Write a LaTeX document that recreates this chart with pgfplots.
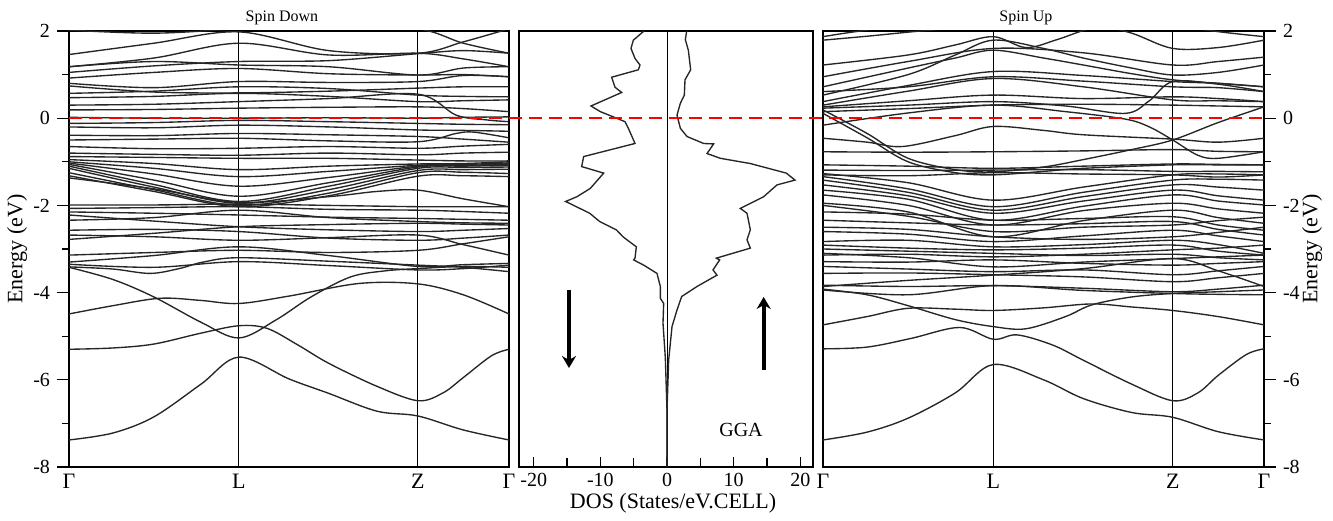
\documentclass[border=0pt]{standalone}
\usepackage{fontspec}
\setmainfont{Liberation Serif}
\usepackage{pgfplots}
\pgfplotsset{compat=1.18}
\usetikzlibrary{calc,arrows.meta}

\pgfplotsset{
  band/.style={black!85, line width=0.68pt, smooth, tension=0.55, mark=none},
  bandax/.style={
    scale only axis, width=220pt, height=218pt,
    xmin=0, xmax=1, ymin=-8, ymax=2,
    axis line style={line width=0.85pt},
    xtick={0,0.386,0.793,1}, xticklabels={Γ,L,Z,Γ},
    xmajorgrids, major grid style={black, line width=0.5pt},
    xtick style={draw=none},
    ytick={-8,-6,-4,-2,0,2}, yticklabels={-8,-6,-4,-2,0,2},
    minor ytick={-7,-5,-3,-1,1},
    tick align=outside, major tick length=6pt, minor tick length=3.5pt,
    ytick style={black, line width=0.6pt},
    yticklabel style={font=\fontsize{10}{12}\selectfont},
    xticklabel style={font=\fontsize{11}{13}\selectfont, yshift=6pt},
    label style={font=\fontsize{11}{13}\selectfont},
  },
}

\begin{document}
\begin{tikzpicture}
\path (-34.5pt,-26.5pt) rectangle (632pt,233.5pt);

% ---------------- spin down bands ----------------
\begin{axis}[bandax, name=sd, at={(0,0)}, anchor=south west,
  ytick pos=left,
  ylabel={Energy (eV)},
  ylabel style={at={(axis description cs:-0.118,0.5)}, anchor=center},
  title={Spin Down},
  every axis title/.style={at={(axis description cs:0.484,1.03)}, anchor=center, font=\fontsize{8}{10}\selectfont}]
\addplot[band] coordinates {(0,-7.38)(0.1,-7.22)(0.193,-6.85)(0.3,-6.1)(0.386,-5.48)(0.5,-5.98)(0.59,-6.31)(0.7,-6.72)(0.793,-6.83)(0.896,-7.15)(1,-7.38)};
\addplot[band] coordinates {(0,-5.30)(0.1,-5.27)(0.193,-5.18)(0.3,-4.93)(0.386,-4.76)(0.45,-4.82)(0.52,-5.2)(0.59,-5.62)(0.7,-6.15)(0.793,-6.48)(0.85,-6.3)(0.896,-5.95)(0.96,-5.45)(1,-5.30)};
\addplot[band] coordinates {(0,-3.42)(0.1,-3.7)(0.193,-4.1)(0.3,-4.68)(0.386,-5.04)(0.47,-4.63)(0.55,-4.1)(0.64,-3.64)(0.72,-3.5)(0.793,-3.45)(0.896,-3.40)(1,-3.42)};
\addplot[band] coordinates {(0,-4.49)(0.1,-4.3)(0.207,-4.13)(0.3,-4.18)(0.386,-4.25)(0.5,-4.08)(0.66,-3.79)(0.793,-3.80)(0.896,-4.05)(1,-4.49)};
\addplot[band] coordinates {(0,-3.35)(0.193,-3.42)(0.386,-3.29)(0.59,-3.38)(0.793,-3.48)(0.896,-3.45)(1,-3.37)};
\addplot[band] coordinates {(0,-3.41)(0.1,-3.46)(0.184,-3.56)(0.25,-3.45)(0.305,-3.3)(0.386,-3.2)(0.59,-3.28)(0.793,-3.37)(0.896,-3.42)(1,-3.52)};
\addplot[band] coordinates {(0,-3.30)(0.193,-3.15)(0.386,-2.95)(0.59,-3.15)(0.793,-3.40)(0.896,-3.36)(1,-3.33)};
\addplot[band] coordinates {(0,-3.14)(0.193,-3.08)(0.386,-3.03)(0.59,-3.08)(0.793,-3.03)(0.896,-2.88)(1,-2.72)};
\addplot[band] coordinates {(0,-2.68)(0.193,-2.72)(0.386,-2.80)(0.59,-2.74)(0.793,-2.68)(0.896,-2.9)(1,-3.14)};
\addplot[band] coordinates {(0,-2.22)(0.193,-2.36)(0.386,-2.49)(0.59,-2.56)(0.793,-2.60)(0.896,-2.57)(1,-2.53)};
\addplot[band] coordinates {(0,-2.78)(0.193,-2.64)(0.386,-2.49)(0.59,-2.44)(0.793,-2.41)(0.896,-2.43)(1,-2.45)};
\addplot[band] coordinates {(0,-1.99)(0.193,-1.99)(0.386,-1.97)(0.59,-2.0)(0.793,-2.03)(0.896,-2.03)(1,-2.03)};
\addplot[band] coordinates {(0,-2.07)(0.193,-2.05)(0.386,-2.03)(0.59,-2.09)(0.793,-2.11)(0.896,-2.14)(1,-2.18)};
\addplot[band] coordinates {(0,-2.15)(0.193,-2.18)(0.386,-2.22)(0.59,-2.27)(0.793,-2.30)(0.896,-2.32)(1,-2.34)};
\addplot[band] coordinates {(0,-2.34)(0.193,-2.28)(0.386,-2.11)(0.59,-2.28)(0.793,-2.37)(0.896,-2.40)(1,-2.41)};
\addplot[band] coordinates {(0,-2.57)(0.193,-2.55)(0.386,-2.60)(0.59,-2.75)(0.793,-2.80)(0.896,-2.75)(1,-2.68)};
\addplot[band] coordinates {(0,-0.95)(0.193,-1.04)(0.386,-1.18)(0.59,-1.10)(0.793,-1.05)(0.896,-1.04)(1,-1.0)};
\addplot[band] coordinates {(0,-1.00)(0.193,-1.15)(0.386,-1.34)(0.59,-1.22)(0.793,-1.08)(0.896,-1.06)(1,-1.03)};
\addplot[band] coordinates {(0,-1.03)(0.193,-1.28)(0.386,-1.56)(0.59,-1.36)(0.793,-1.10)(0.896,-1.08)(1,-1.06)};
\addplot[band] coordinates {(0,-1.06)(0.193,-1.42)(0.386,-1.79)(0.59,-1.48)(0.793,-1.12)(0.896,-1.10)(1,-1.08)};
\addplot[band] coordinates {(0,-1.10)(0.193,-1.52)(0.386,-1.91)(0.59,-1.56)(0.793,-1.15)(0.896,-1.13)(1,-1.12)};
\addplot[band] coordinates {(0,-1.15)(0.193,-1.58)(0.386,-1.95)(0.59,-1.64)(0.793,-1.20)(0.896,-1.18)(1,-1.17)};
\addplot[band] coordinates {(0,-1.25)(0.193,-1.64)(0.386,-2.00)(0.59,-1.72)(0.793,-1.25)(0.896,-1.24)(1,-1.27)};
\addplot[band] coordinates {(0,-1.32)(0.193,-1.68)(0.386,-2.03)(0.59,-1.78)(0.793,-1.33)(0.896,-1.32)(1,-1.34)};
\addplot[band] coordinates {(0,-1.37)(0.193,-1.62)(0.386,-1.93)(0.59,-1.80)(0.7,-1.68)(0.793,-1.65)(0.896,-1.85)(1,-2.03)};
\addplot[band] coordinates {(0,-0.88)(0.193,-0.90)(0.386,-0.92)(0.59,-0.92)(0.793,-0.96)(0.896,-0.98)(1,-0.98)};
\addplot[band] coordinates {(0,-0.80)(0.193,-0.83)(0.386,-0.85)(0.59,-0.80)(0.793,-0.84)(0.896,-0.80)(1,-0.78)};
\addplot[band] coordinates {(0,-0.65)(0.193,-0.70)(0.386,-0.69)(0.59,-0.65)(0.793,-0.69)(0.896,-0.64)(1,-0.60)};
\addplot[band] coordinates {(0,-0.50)(0.193,-0.48)(0.386,-0.46)(0.59,-0.52)(0.793,-0.54)(0.88,-0.35)(0.92,-0.32)(1,-0.45)};
\addplot[band] coordinates {(0,-0.39)(0.193,-0.40)(0.386,-0.35)(0.59,-0.38)(0.793,-0.42)(0.896,-0.48)(1,-0.55)};
\addplot[band] coordinates {(0,-0.20)(0.193,-0.22)(0.386,-0.16)(0.59,-0.20)(0.793,-0.27)(0.896,-0.28)(1,-0.30)};
\addplot[band] coordinates {(0,-0.12)(0.193,-0.10)(0.386,-0.05)(0.59,-0.08)(0.793,-0.12)(0.896,-0.14)(1,-0.15)};
\addplot[band] coordinates {(0,0.02)(0.193,0.0)(0.386,0.0)(0.59,0.01)(0.793,0.0)(0.896,0.02)(1,0.03)};
\addplot[band] coordinates {(0,0.19)(0.193,0.20)(0.386,0.23)(0.59,0.25)(0.793,0.26)(0.896,0.22)(1,0.15)};
\addplot[band] coordinates {(0,0.30)(0.193,0.32)(0.386,0.38)(0.59,0.45)(0.793,0.55)(0.88,0.07)(0.95,-0.04)(1,-0.08)};
\addplot[band] coordinates {(0,0.47)(0.193,0.50)(0.386,0.57)(0.59,0.50)(0.793,0.38)(0.896,0.40)(1,0.42)};
\addplot[band] coordinates {(0,0.57)(0.193,0.62)(0.386,0.72)(0.59,0.68)(0.793,0.53)(0.896,0.50)(1,0.49)};
\addplot[band] coordinates {(0,0.74)(0.193,0.60)(0.386,0.58)(0.59,0.62)(0.793,0.69)(0.896,0.72)(1,0.72)};
\addplot[band] coordinates {(0,0.80)(0.193,0.70)(0.386,0.84)(0.59,0.82)(0.793,0.84)(0.896,0.98)(1,0.95)};
\addplot[band] coordinates {(0,0.92)(0.193,1.05)(0.386,1.14)(0.59,1.02)(0.793,0.99)(0.896,1.0)(1,0.95)};
\addplot[band] coordinates {(0,1.18)(0.193,1.30)(0.386,1.22)(0.59,1.18)(0.793,0.99)(0.896,1.15)(1,1.18)};
\addplot[band] coordinates {(0,1.18)(0.193,1.38)(0.386,1.72)(0.59,1.45)(0.793,1.49)(0.896,1.36)(1,1.18)};
\addplot[band] coordinates {(0,1.46)(0.193,1.72)(0.386,1.98)(0.59,1.55)(0.793,1.49)(0.896,1.75)(1,2.05)};
\addplot[band] coordinates {(0,2.02)(0.193,1.95)(0.386,2.05)(0.59,2.15)(0.793,2.05)(0.896,1.72)(1,1.49)};
\addplot[band] coordinates {(0,1.05)(0.193,1.2)(0.386,1.30)(0.59,1.32)(0.793,1.48)(0.896,1.55)(1,1.49)};
\end{axis}

% ---------------- DOS ----------------
\begin{axis}[name=dos, at={(225pt,0)}, anchor=south west,
  scale only axis, width=147pt, height=218pt,
  xmin=-22.2, xmax=21.9, ymin=-8, ymax=2,
  axis line style={line width=0.85pt},
  ytick=\empty,
  xtick={-20,-10,0,10,20}, xticklabels={-20,-10,0,10,20},
  minor xtick={-15,-5,5,15},
  xtick pos=left, tick align=inside,
  major tick length=5pt, minor tick length=4.5pt,
  xtick style={black, line width=0.6pt},
  xticklabel style={font=\fontsize{10}{12}\selectfont, yshift=0.5pt},
  xlabel={DOS (States/eV.CELL)},
  xlabel style={font=\fontsize{11}{13}\selectfont, at={(axis description cs:0.524,-0.082)}, anchor=center}]
\addplot[black, line width=0.5pt] coordinates {(0,-8)(0,2)};
\addplot[black!85, line width=0.68pt] coordinates {(-3.45,2.0)(-5.05,1.79)(-5.4,1.6)(-4.8,1.37)(-4.05,1.22)(-4.3,1.11)(-8.3,0.94)(-7.8,0.71)(-6.8,0.59)(-11.4,0.28)(-10.0,0.15)(-8.05,0.03)(-6.3,-0.08)(-5.8,-0.23)(-4.8,-0.58)(-12.5,-0.88)(-12.8,-1.11)(-9.5,-1.26)(-11.5,-1.61)(-13.5,-1.80)(-15.2,-1.91)(-14.0,-2.0)(-11.6,-2.18)(-10.1,-2.37)(-7.6,-2.56)(-6.6,-2.72)(-4.6,-2.95)(-4.8,-3.21)(-5.0,-3.25)(-3.5,-3.37)(-1.5,-3.56)(-1.0,-3.86)(-1.0,-4.13)(-0.5,-4.25)(-0.6,-4.7)(-0.25,-5.5)(0,-6.7)(0,-8)};
\addplot[black!85, line width=0.68pt] coordinates {(2.95,2.0)(2.75,1.8)(3.2,1.56)(3.55,1.11)(2.7,0.88)(2.6,0.53)(2.0,0.34)(1.5,0.07)(2.0,-0.23)(3.0,-0.42)(5.5,-0.58)(7.0,-0.59)(6.0,-0.81)(8.0,-0.92)(12.5,-1.04)(17.9,-1.26)(19.2,-1.42)(16.5,-1.53)(14.5,-1.80)(11.0,-2.07)(12.0,-2.18)(12.5,-2.56)(12.0,-2.79)(12.5,-2.98)(7.4,-3.21)(7.9,-3.25)(6.9,-3.48)(7.5,-3.60)(4.5,-3.86)(2.2,-4.09)(1.5,-4.40)(0.75,-4.78)(0.25,-5.55)(0,-6.7)(0,-8)};
\draw[-{Stealth[length=6pt,width=7pt]}, line width=2pt] (axis cs:-14.7,-3.94) -- (axis cs:-14.7,-5.73);
\draw[-{Stealth[length=6pt,width=7pt]}, line width=2pt] (axis cs:14.5,-5.78) -- (axis cs:14.5,-4.1);
\node[font=\fontsize{10}{12}\selectfont] at (axis cs:11.1,-7.15) {GGA};
\end{axis}

% ---------------- spin up bands ----------------
\begin{axis}[bandax, name=su, at={(377pt,0)}, anchor=south west, width=220.5pt,
  ytick pos=right, yticklabel pos=right,
  ylabel={Energy (eV)},
  ylabel style={at={(axis description cs:1.109,0.5)}, anchor=center},
  title={Spin Up},
  every axis title/.style={at={(axis description cs:0.46,1.03)}, anchor=center, font=\fontsize{8}{10}\selectfont}]
\addplot[band] coordinates {(0,-7.38)(0.1,-7.2)(0.193,-6.88)(0.3,-6.3)(0.386,-5.65)(0.5,-6.0)(0.59,-6.43)(0.7,-6.75)(0.793,-6.86)(0.896,-7.19)(1,-7.38)};
\addplot[band] coordinates {(0,-5.29)(0.1,-5.25)(0.2,-5.05)(0.31,-4.80)(0.386,-5.07)(0.44,-4.97)(0.52,-5.2)(0.59,-5.55)(0.7,-6.1)(0.793,-6.48)(0.85,-6.3)(0.896,-5.9)(0.96,-5.42)(1,-5.29)};
\addplot[band] coordinates {(0,-3.92)(0.1,-4.05)(0.193,-4.30)(0.3,-4.62)(0.386,-4.78)(0.46,-4.83)(0.55,-4.55)(0.61,-4.28)(0.7,-4.1)(0.793,-4.02)(0.896,-3.98)(1,-3.94)};
\addplot[band] coordinates {(0,-4.74)(0.1,-4.55)(0.193,-4.36)(0.3,-4.38)(0.386,-4.41)(0.5,-4.35)(0.61,-4.26)(0.7,-4.33)(0.793,-4.41)(0.896,-4.55)(1,-4.74)};
\addplot[band] coordinates {(0,-3.29)(0.193,-3.30)(0.386,-3.25)(0.59,-3.33)(0.793,-3.37)(0.896,-3.33)(1,-3.29)};
\addplot[band] coordinates {(0,-3.40)(0.193,-3.46)(0.386,-3.52)(0.59,-3.48)(0.793,-3.59)(0.896,-3.50)(1,-3.40)};
\addplot[band] coordinates {(0,-3.56)(0.193,-3.55)(0.386,-3.59)(0.59,-3.64)(0.793,-3.75)(0.896,-3.66)(1,-3.56)};
\addplot[band] coordinates {(0,-3.83)(0.193,-3.86)(0.386,-3.84)(0.59,-3.90)(0.793,-3.98)(0.896,-3.92)(1,-3.83)};
\addplot[band] coordinates {(0,-3.94)(0.193,-4.05)(0.386,-3.84)(0.59,-3.95)(0.793,-4.02)(0.896,-4.04)(1,-4.05)};
\addplot[band] coordinates {(0,-3.86)(0.193,-3.72)(0.386,-3.60)(0.59,-3.45)(0.793,-3.22)(0.896,-3.50)(1,-3.86)};
\addplot[band] coordinates {(0,-1.19)(0.193,-1.20)(0.386,-1.19)(0.59,-1.18)(0.793,-1.22)(0.896,-1.22)(1,-1.23)};
\addplot[band] coordinates {(0,-1.30)(0.193,-1.32)(0.386,-1.25)(0.59,-1.28)(0.793,-1.30)(0.896,-1.35)(1,-1.30)};
\addplot[band] coordinates {(0,-1.27)(0.193,-1.48)(0.386,-1.88)(0.59,-1.58)(0.793,-1.30)(0.896,-1.28)(1,-1.30)};
\addplot[band] coordinates {(0,-1.34)(0.193,-1.62)(0.386,-2.03)(0.59,-1.70)(0.793,-1.42)(0.896,-1.40)(1,-1.42)};
\addplot[band] coordinates {(0,-1.42)(0.193,-1.70)(0.386,-2.11)(0.59,-1.80)(0.793,-1.53)(0.896,-1.58)(1,-1.65)};
\addplot[band] coordinates {(0,-1.53)(0.193,-1.78)(0.386,-2.18)(0.59,-1.90)(0.793,-1.65)(0.896,-1.78)(1,-1.88)};
\addplot[band] coordinates {(0,-1.65)(0.193,-1.86)(0.386,-2.34)(0.59,-2.02)(0.793,-1.76)(0.896,-1.90)(1,-1.99)};
\addplot[band] coordinates {(0,-1.76)(0.193,-2.0)(0.386,-2.45)(0.59,-2.12)(0.793,-1.95)(0.896,-2.08)(1,-2.18)};
\addplot[band] coordinates {(0,-1.95)(0.193,-2.15)(0.386,-2.72)(0.59,-2.35)(0.793,-2.11)(0.896,-2.28)(1,-2.41)};
\addplot[band] coordinates {(0,-2.0)(0.193,-2.25)(0.386,-2.60)(0.59,-2.5)(0.793,-2.45)(0.896,-2.35)(1,-2.27)};
\addplot[band] coordinates {(0,-2.15)(0.193,-2.20)(0.386,-2.34)(0.59,-2.30)(0.793,-2.26)(0.896,-2.45)(1,-2.57)};
\addplot[band] coordinates {(0,-2.34)(0.193,-2.40)(0.386,-2.45)(0.59,-2.42)(0.793,-2.37)(0.896,-2.55)(1,-2.68)};
\addplot[band] coordinates {(0,-2.50)(0.193,-2.55)(0.386,-2.72)(0.59,-2.78)(0.793,-2.72)(0.896,-2.62)(1,-2.50)};
\addplot[band] coordinates {(0,-2.60)(0.193,-2.66)(0.386,-2.83)(0.59,-2.70)(0.793,-2.57)(0.896,-2.70)(1,-2.83)};
\addplot[band] coordinates {(0,-2.83)(0.193,-2.80)(0.386,-2.95)(0.59,-2.90)(0.793,-2.80)(0.896,-2.90)(1,-3.10)};
\addplot[band] coordinates {(0,-2.91)(0.193,-2.98)(0.386,-3.02)(0.59,-2.98)(0.793,-2.91)(0.896,-3.05)(1,-3.14)};
\addplot[band] coordinates {(0,-3.0)(0.193,-3.05)(0.386,-3.10)(0.59,-3.15)(0.793,-3.12)(0.896,-3.20)(1,-3.25)};
\addplot[band] coordinates {(0,-3.14)(0.193,-3.12)(0.386,-3.18)(0.59,-3.12)(0.793,-3.02)(0.896,-2.98)(1,-2.91)};
\addplot[band] coordinates {(0,-3.10)(0.193,-3.20)(0.386,-3.41)(0.59,-3.30)(0.793,-3.22)(0.896,-3.18)(1,-3.14)};
\addplot[band] coordinates {(0,-1.07)(0.193,-1.10)(0.386,-1.15)(0.59,-1.10)(0.793,-1.05)(0.896,-1.06)(1,-1.07)};
\addplot[band] coordinates {(0,-0.77)(0.193,-0.78)(0.386,-0.77)(0.59,-0.75)(0.793,-0.72)(0.896,-0.76)(1,-0.77)};
\addplot[band] coordinates {(0,0.19)(0.1,-0.35)(0.193,-0.92)(0.3,-1.18)(0.386,-1.23)(0.5,-1.12)(0.59,-0.95)(0.7,-0.72)(0.793,-0.50)(0.896,-0.10)(1,0.26)};
\addplot[band] coordinates {(0,0.11)(0.1,-0.45)(0.193,-1.0)(0.3,-1.25)(0.386,-1.30)(0.5,-1.22)(0.59,-1.15)(0.793,-1.07)(0.896,-1.07)(1,-1.07)};
\addplot[band] coordinates {(0,-0.46)(0.1,-0.55)(0.18,-0.65)(0.3,-0.40)(0.386,-0.19)(0.5,-0.28)(0.59,-0.38)(0.793,-0.48)(0.896,-0.55)(1,-0.46)};
\addplot[band] coordinates {(0,-0.16)(0.193,0.12)(0.386,0.30)(0.55,0.15)(0.685,-0.02)(0.74,-0.2)(0.793,-0.50)(0.85,-0.85)(0.896,-0.92)(1,-0.77)};
\addplot[band] coordinates {(0,0.23)(0.193,0.30)(0.386,0.38)(0.55,0.28)(0.685,0.11)(0.74,0.40)(0.793,0.84)(0.896,0.78)(1,0.61)};
\addplot[band] coordinates {(0,0.15)(0.193,0.22)(0.386,0.30)(0.59,0.32)(0.793,0.30)(0.896,0.28)(1,0.26)};
\addplot[band] coordinates {(0,0.26)(0.193,0.40)(0.386,0.53)(0.59,0.45)(0.793,0.49)(0.896,0.45)(1,0.38)};
\addplot[band] coordinates {(0,0.30)(0.193,0.62)(0.386,0.91)(0.59,0.72)(0.793,0.42)(0.896,0.40)(1,0.38)};
\addplot[band] coordinates {(0,0.38)(0.193,0.75)(0.386,1.07)(0.59,0.98)(0.793,0.84)(0.896,0.80)(1,0.72)};
\addplot[band] coordinates {(0,0.61)(0.193,0.72)(0.386,0.95)(0.59,0.85)(0.793,0.72)(0.896,0.70)(1,0.61)};
\addplot[band] coordinates {(0,0.53)(0.193,1.0)(0.3,1.45)(0.386,1.79)(0.5,1.6)(0.59,1.38)(0.7,1.15)(0.793,0.99)(0.896,1.05)(1,1.22)};
\addplot[band] coordinates {(0,0.72)(0.193,1.15)(0.3,1.38)(0.386,1.56)(0.5,1.38)(0.59,1.22)(0.7,1.02)(0.793,0.88)(0.896,0.80)(1,0.72)};
\addplot[band] coordinates {(0,0.95)(0.193,1.3)(0.386,1.6)(0.59,1.5)(0.793,1.22)(0.896,1.3)(1,1.4)};
\addplot[band] coordinates {(0,1.22)(0.193,1.45)(0.3,1.68)(0.386,1.87)(0.46,1.62)(0.53,1.8)(0.6,2.04)(0.66,2.12)};
\addplot[band] coordinates {(0.6,2.2)(0.7,1.95)(0.793,1.60)(0.896,1.62)(1,1.79)};
\addplot[band] coordinates {(0,1.79)(0.1,1.88)(0.2,1.98)(0.28,2.05)};
\addplot[band] coordinates {(0,1.87)(0.05,1.95)(0.12,2.05)};
\addplot[band] coordinates {(0.82,2.1)(0.9,1.98)(1,1.87)};
\end{axis}

\draw[red, line width=1.2pt, dash pattern=on 6.5pt off 3.5pt]
  ($(sd.south west)!0.8!(sd.north west)$) -- ($(su.south east)!0.8!(su.north east)$);
\end{tikzpicture}
\end{document}
